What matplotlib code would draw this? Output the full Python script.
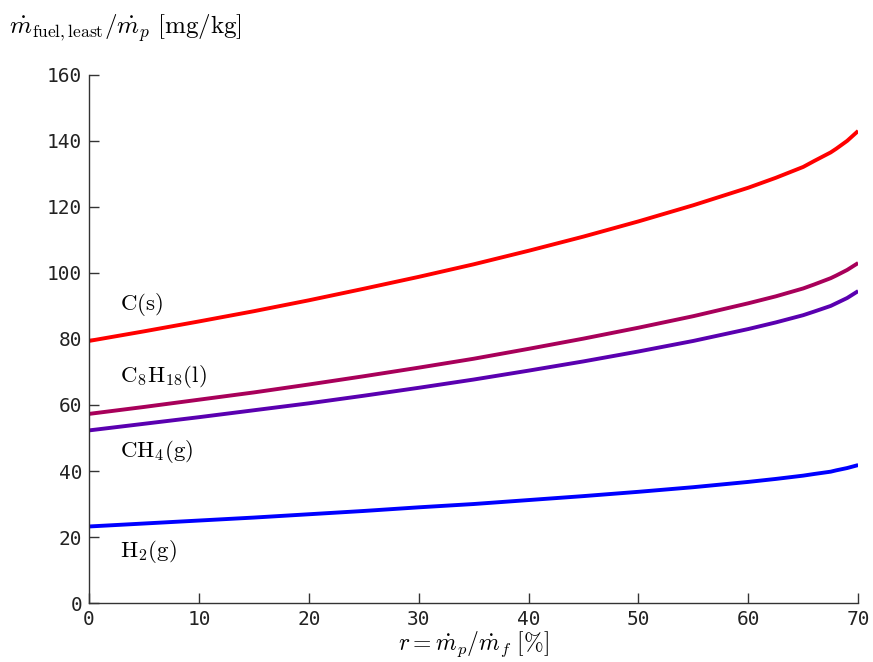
import matplotlib
matplotlib.use("Agg")
import matplotlib.pyplot as plt

plt.rcParams['mathtext.fontset'] = 'cm'

r = [0, 5, 10, 15, 20, 25, 30, 35, 40, 45, 50, 55, 60, 62.5, 65, 66, 67.5, 68, 69, 70]
c_s = [79.4, 82.3, 85.3, 88.4, 91.7, 95.2, 98.8, 102.6, 106.7, 111.0, 115.6, 120.5, 125.8, 128.8, 132.1, 133.9, 136.5, 137.6, 140.0, 143.0]
c8h18 = [57.3, 59.4, 61.6, 63.8, 66.2, 68.7, 71.3, 74.0, 77.0, 80.1, 83.4, 86.9, 90.8, 92.9, 95.3, 96.5, 98.4, 99.2, 100.9, 103.0]
ch4 = [52.3, 54.3, 56.3, 58.4, 60.5, 62.8, 65.2, 67.7, 70.4, 73.2, 76.2, 79.4, 83.0, 85.0, 87.2, 88.3, 90.0, 90.8, 92.4, 94.5]
h2 = [23.2, 24.1, 25.0, 25.9, 26.9, 27.9, 29.0, 30.0, 31.2, 32.4, 33.7, 35.1, 36.7, 37.6, 38.6, 39.1, 39.8, 40.2, 40.9, 41.8]

series = [
    (r"$\mathrm{C(s)}$", c_s, "#ff0000", 90.5),
    (r"$\mathrm{C_8H_{18}(l)}$", c8h18, "#a8005a", 68.5),
    (r"$\mathrm{CH_4(g)}$", ch4, "#5a00b0", 46),
    (r"$\mathrm{H_2(g)}$", h2, "#0000ff", 15.5),
]

fig = plt.figure(figsize=(8.73, 6.62), dpi=100)
ax = fig.add_axes([0.102, 0.089, 0.881, 0.798])

for label, vals, color, ly in series:
    ax.plot(r, vals, color=color, lw=2.8, solid_capstyle='butt', solid_joinstyle='round')
    ax.text(2.8, ly, label, fontsize=16.5, va='center', ha='left')

ax.set_xlim(0, 70)
ax.set_ylim(0, 160)
ax.set_xticks(range(0, 71, 10))
ax.set_yticks(range(0, 161, 20))
for sp in ['top', 'right']:
    ax.spines[sp].set_visible(False)
for sp in ['left', 'bottom']:
    ax.spines[sp].set_linewidth(1.0)
    ax.spines[sp].set_color('#333333')
ax.tick_params(direction='in', length=7, width=1.0, colors='#333333',
               labelsize=14, labelcolor='#222222', pad=5)
for lab in ax.get_xticklabels() + ax.get_yticklabels():
    lab.set_fontfamily('DejaVu Sans Mono')

ax.set_xlabel(r'$r = \dot{m}_p/\dot{m}_f\ [\%]$', fontsize=17, labelpad=0)
fig.text(0.01, 0.957, r'$\dot{m}_{\mathrm{fuel,least}}/\dot{m}_p\ [\mathrm{mg/kg}]$',
         fontsize=18, ha='left', va='center')

fig.savefig("out.png", dpi=100)
